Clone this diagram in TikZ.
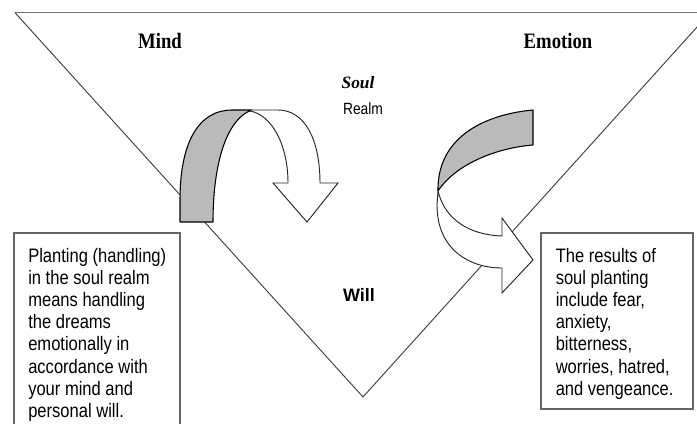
\documentclass[tikz,border=0pt]{standalone}
\usepackage{fontspec}
\setmainfont{Liberation Sans}
\newfontfamily\boxfont[FakeStretch=0.85]{Liberation Sans}
\newfontfamily\labfont[FakeStretch=0.85]{Liberation Serif}
\newfontfamily\soulfont{Liberation Serif}
\begin{document}
\begin{tikzpicture}[x=0.75pt,y=-0.75pt,
  topline/.style={draw=black!55, line width=1.1pt},
  edge/.style={draw=black!75, line width=0.7pt},
  boxline/.style={draw=black!60, line width=0.9pt},
  back/.style={fill=black!27, draw=black, line width=0.8pt, line join=round},
  front/.style={fill=white, draw=black!85, line width=0.7pt, line join=miter},
  boxtext/.style={anchor=north west, inner sep=0pt, align=left,
    font=\boxfont\fontsize{14.6}{16.65}\selectfont},
  lab/.style={anchor=base, inner sep=0pt}]
\fill[white] (0,0) rectangle (697,424);
\useasboundingbox (0,0) rectangle (697,424);

% triangle of the soul
\coordinate (tl) at (15,12.7);
\coordinate (tr) at (710,12.7);
\coordinate (bt) at (363,397);
\draw[topline] (tl) -- (tr);
\draw[edge] (tr) -- (bt) -- (tl);

% text boxes
\draw[boxline] (14,233) rectangle (180,440);
\draw[boxline] (541,233) rectangle (693,409);

% left curved arrow
\draw[back] (180,222) -- (180,200) .. controls (180,140) and (200,110) .. (232,110)
  -- (252,110) .. controls (228,118) and (213,160) .. (213,222) -- cycle;
\draw[front] (250,110) -- (278,110) .. controls (305,110) and (320,140) .. (320,183)
  -- (338,183) -- (307,222) -- (273,183) -- (288,183)
  .. controls (288,145) and (272,115) .. (250,111) -- cycle;

% right curved arrow
\draw[back] (533,110) -- (533,145) .. controls (495,148) and (455,165) .. (438,191)
  .. controls (437,140) and (480,115) .. (533,110) -- cycle;
\draw[front] (438,191) -- (437,205) .. controls (437,250) and (470,268) .. (502,268)
  -- (502,293) -- (533,260) -- (502,218) -- (502,236)
  .. controls (470,235) and (445,220) .. (438,191) -- cycle;

% labels
\node[lab, font=\labfont\bfseries\fontsize{16.5}{18}\selectfont] (mind) at (160,48.3) {Mind};
\node[lab, font=\labfont\bfseries\fontsize{16.5}{18}\selectfont] (emotion) at (558,49) {Emotion};
\node[lab, font=\soulfont\bfseries\itshape\fontsize{13}{15}\selectfont] (soul) at (358,88.3) {Soul};
\node[lab, font=\boxfont\fontsize{12.2}{15}\selectfont] (realm) at (363,115) {Realm};
\node[lab, font=\bfseries\fontsize{13.5}{16}\selectfont] (will) at (359,301.7) {Will};

% box texts
\node[boxtext] (lefttext) at (28,246.2) {\strut Planting (handling)\\ in the soul realm\\ means handling\\ the dreams\\ emotionally in\\ accordance with\\ your mind and\\ personal will.};
\node[boxtext] (righttext) at (555.5,246.2) {\strut The results of\\ soul planting\\ include fear,\\ anxiety,\\ bitterness,\\ worries, hatred,\\ and vengeance.};
\end{tikzpicture}
\end{document}
